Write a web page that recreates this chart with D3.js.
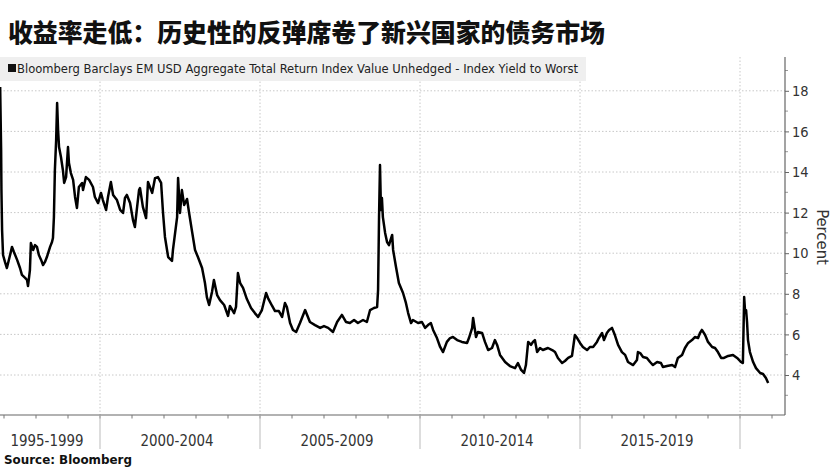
<!DOCTYPE html>
<html><head><meta charset="utf-8">
<script src="https://cdn.jsdelivr.net/npm/d3@7"></script>
<style>body{margin:0;background:#fff}svg{display:block}</style>
</head><body>
<svg id="c" width="831" height="467"></svg>
<script>
const title = "收益率走低：历史性的反弹席卷了新兴国家的债务市场";
const legendLabel = "Bloomberg Barclays EM USD Aggregate Total Return Index Value Unhedged - Index Yield to Worst";
const yTicks = [4, 6, 8, 10, 12, 14, 16, 18];
const periodLabels = ["1995-1999", "2000-2004", "2005-2009", "2010-2014", "2015-2019"];
const periodStarts = [1995, 2000, 2005, 2010, 2015, 2020];
const dates = [1996.88,1996.91,1996.92,1996.94,1996.97,1997.03,1997.09,1997.19,1997.25,1997.31,1997.41,1997.5,1997.56,1997.66,1997.72,1997.75,1997.81,1997.84,1997.91,1997.97,
1998.03,1998.09,1998.16,1998.22,1998.28,1998.34,1998.44,1998.5,1998.53,1998.56,1998.59,1998.63,1998.66,1998.69,1998.72,1998.78,1998.84,1998.88,1998.94,
1999.0,1999.03,1999.09,1999.16,1999.22,1999.28,1999.34,1999.44,1999.47,1999.56,1999.66,1999.78,1999.84,1999.94,
2000.03,2000.09,2000.19,2000.25,2000.34,2000.41,2000.53,2000.63,2000.72,2000.78,2000.84,2000.94,
2001.03,2001.09,2001.16,2001.22,2001.25,2001.34,2001.44,2001.5,2001.63,2001.72,2001.81,2001.91,2001.97,
2002.03,2002.13,2002.25,2002.28,2002.41,2002.44,2002.5,2002.56,2002.63,2002.72,2002.78,2002.88,2002.97,
2003.06,2003.19,2003.28,2003.34,2003.41,2003.5,2003.56,2003.66,2003.75,2003.88,
2004.0,2004.06,2004.19,2004.25,2004.31,2004.38,2004.47,2004.59,2004.72,2004.84,2004.94,
2005.06,2005.19,2005.25,2005.38,2005.47,2005.59,2005.69,2005.78,2005.84,2005.94,
2006.03,2006.13,2006.25,2006.41,2006.56,2006.72,2006.88,
2007.0,2007.13,2007.28,2007.41,2007.56,2007.69,2007.81,2007.94,
2008.06,2008.22,2008.34,2008.44,2008.56,2008.66,2008.69,2008.72,2008.75,2008.78,2008.81,2008.84,2008.91,2008.97,
2009.03,2009.13,2009.16,2009.25,2009.34,2009.47,2009.56,2009.63,2009.72,2009.78,2009.94,
2010.06,2010.16,2010.25,2010.34,2010.41,2010.53,2010.63,2010.72,2010.84,2010.94,
2011.03,2011.16,2011.31,2011.47,2011.53,2011.63,2011.66,2011.75,2011.81,2011.94,
2012.03,2012.13,2012.25,2012.34,2012.41,2012.5,2012.66,2012.81,2012.97,
2013.06,2013.16,2013.25,2013.31,2013.38,2013.47,2013.53,2013.59,2013.66,2013.75,2013.84,
2014.0,2014.13,2014.22,2014.31,2014.44,2014.53,2014.63,2014.75,2014.84,2014.91,
2015.0,2015.09,2015.22,2015.31,2015.41,2015.53,2015.59,2015.69,2015.75,2015.84,2015.91,
2016.0,2016.09,2016.19,2016.31,2016.41,2016.5,2016.66,2016.78,2016.81,2016.88,2016.97,
2017.09,2017.19,2017.28,2017.41,2017.53,2017.59,2017.72,2017.88,2017.97,
2018.06,2018.19,2018.28,2018.38,2018.5,2018.59,2018.69,2018.75,2018.81,2018.91,
2019.0,2019.13,2019.22,2019.31,2019.41,2019.5,2019.63,2019.78,2019.91,
2020.03,2020.09,2020.13,2020.16,2020.19,2020.22,2020.25,2020.31,2020.41,2020.5,2020.63,2020.72,2020.81,2020.88];
const yields = [18.19,15.08,13.11,11.14,9.91,9.57,9.27,9.91,10.31,10.06,9.67,9.27,8.93,8.78,8.68,8.38,9.17,10.5,10.16,10.4,
10.31,9.91,9.67,9.42,9.57,9.81,10.31,10.55,10.75,11.78,14.1,15.58,17.4,16.07,15.23,14.74,14.1,13.46,13.75,
15.23,14.44,13.95,13.61,12.77,12.23,13.26,13.46,13.11,13.75,13.61,13.26,12.77,12.47,
12.97,12.62,12.13,12.77,13.51,12.87,12.62,12.13,11.98,12.72,12.87,12.47,
11.64,11.29,12.28,13.11,13.21,12.28,11.73,13.51,12.97,13.7,13.75,13.46,11.98,
10.8,9.81,9.62,10.16,11.78,13.7,11.98,13.11,12.37,12.67,12.03,11.04,10.16,
9.81,9.27,8.53,7.84,7.45,8.09,8.68,7.94,7.69,7.45,
6.91,7.4,7.05,7.35,9.02,8.53,8.29,7.74,7.3,7.05,6.86,
7.2,8.04,7.79,7.4,7.15,7.15,6.86,7.55,7.35,6.56,
6.22,6.12,6.56,7.2,6.61,6.46,6.32,
6.41,6.32,6.12,6.61,6.96,6.61,6.56,6.71,
6.56,6.71,6.61,7.2,7.3,7.35,8.19,11.78,14.34,12.13,12.72,11.78,11.0,10.55,
10.4,10.9,10.16,9.32,8.53,8.04,7.55,7.05,6.56,6.71,6.56,
6.61,6.32,6.46,6.56,6.22,5.82,5.38,5.13,5.63,5.82,
5.87,5.72,5.63,5.58,5.82,6.32,6.81,5.87,6.12,6.07,
5.63,5.23,5.33,5.72,5.48,4.99,4.64,4.44,4.34,
4.59,4.25,4.1,4.49,5.63,5.48,5.63,5.72,5.13,5.33,5.23,
5.33,5.23,5.13,4.84,4.59,4.69,4.84,4.94,5.97,5.82,
5.58,5.38,5.23,5.38,5.38,5.63,5.82,6.07,5.72,6.07,6.22,
6.32,5.97,5.48,5.13,4.99,4.64,4.49,4.74,5.13,5.08,4.89,
4.84,4.64,4.49,4.64,4.59,4.39,4.44,4.49,4.39,
4.84,4.99,5.33,5.58,5.72,5.87,5.82,6.07,6.22,5.97,
5.63,5.38,5.33,5.13,4.84,4.84,4.94,4.99,4.84,
4.64,4.59,7.84,7.1,7.2,6.61,5.72,5.13,4.64,4.34,4.1,4.05,3.85,3.61];

const svg = d3.select("#c");
const plotL = 0, plotR = 785, plotT = 57, plotB = 415;
const x = d3.scaleLinear().domain([1995, 2020]).range([-60, 740]);
const y = d3.scaleLinear().domain([4, 18]).range([375, 90.8]);

// title
svg.append("text").attr("x", 8).attr("y", 42)
  .attr("font-family", "'Noto Sans CJK SC', sans-serif").attr("font-weight", 900)
  .attr("font-size", 24.5).attr("fill", "#111")
  .attr("textLength", 597).attr("lengthAdjust", "spacingAndGlyphs").text(title);

// grid
const g = svg.append("g");
g.selectAll(".hg").data(yTicks).join("line")
  .attr("x1", plotL).attr("x2", plotR).attr("y1", d => y(d)).attr("y2", d => y(d))
  .attr("stroke", "#c8c8c8").attr("stroke-width", 1).attr("stroke-dasharray", "1.5,2");
g.selectAll(".vg").data(periodStarts.slice(1)).join("line")
  .attr("x1", d => x(d)).attr("x2", d => x(d)).attr("y1", plotT).attr("y2", plotB)
  .attr("stroke", "#c8c8c8").attr("stroke-width", 1).attr("stroke-dasharray", "1.5,2");

// legend band
svg.append("rect").attr("x", 0).attr("y", 57).attr("width", 586).attr("height", 24).attr("fill", "#efefef");
svg.append("rect").attr("x", 8).attr("y", 64).attr("width", 8).attr("height", 8).attr("fill", "#111");
svg.append("text").attr("x", 17).attr("y", 73)
  .attr("font-family", "'DejaVu Sans Condensed', 'DejaVu Sans', sans-serif")
  .attr("font-size", 12.5).attr("fill", "#222")
  .attr("textLength", 561).attr("lengthAdjust", "spacingAndGlyphs").text(legendLabel);

// line
const line = d3.line().x((d, i) => x(dates[i])).y(d => y(d)).curve(d3.curveLinear);
svg.append("path").attr("d", line(yields)).attr("fill", "none")
  .attr("stroke", "#000").attr("stroke-width", 2.5).attr("stroke-linejoin", "round");

// right axis
const yAxis = d3.axisRight(y).tickValues(yTicks).tickSize(4).tickPadding(3).tickFormat(d3.format("d"));
const ya = svg.append("g").attr("transform", `translate(${plotR},0)`).call(yAxis);
ya.select(".domain").remove();
ya.selectAll("text").attr("font-family", "'DejaVu Sans Condensed', sans-serif").attr("font-size", 14.5).attr("fill", "#333");
ya.selectAll("line").attr("stroke", "#666");
const minor = d3.range(3, 20, 2);
svg.append("g").selectAll("line").data(minor).join("line")
  .attr("x1", plotR).attr("x2", plotR + 3).attr("y1", d => y(d)).attr("y2", d => y(d))
  .attr("stroke", "#999");
svg.append("line").attr("x1", plotR).attr("x2", plotR).attr("y1", plotT).attr("y2", plotB)
  .attr("stroke", "#666").attr("stroke-width", 1.2);

svg.append("text").attr("transform", `translate(817,237) rotate(90)`)
  .attr("text-anchor", "middle").attr("font-family", "'DejaVu Sans Condensed', sans-serif")
  .attr("font-size", 16.5).attr("fill", "#333").text("Percent");

// bottom axis
svg.append("line").attr("x1", plotL).attr("x2", plotR).attr("y1", plotB).attr("y2", plotB)
  .attr("stroke", "#666").attr("stroke-width", 1.2);
const years = d3.range(1997, 2022);
svg.append("g").selectAll("line").data(years).join("line")
  .attr("x1", d => x(d)).attr("x2", d => x(d)).attr("y1", plotB).attr("y2", plotB + 3.5)
  .attr("stroke", "#777");
svg.append("g").selectAll("line").data(periodStarts.slice(1)).join("line")
  .attr("x1", d => x(d)).attr("x2", d => x(d)).attr("y1", plotB).attr("y2", 449)
  .attr("stroke", "#bbb");
svg.append("g").selectAll("text").data(periodLabels).join("text")
  .attr("x", (d, i) => (Math.max(plotL, x(periodStarts[i])) + x(periodStarts[i + 1])) / 2 - 3)
  .attr("y", 446).attr("text-anchor", "middle")
  .attr("font-family", "'DejaVu Sans Condensed', sans-serif").attr("font-size", 15.5)
  .attr("fill", "#333").attr("textLength", 73).attr("lengthAdjust", "spacingAndGlyphs")
  .text(d => d);

// source
svg.append("text").attr("x", 4).attr("y", 464)
  .attr("font-family", "'DejaVu Sans Condensed', sans-serif").attr("font-weight", "bold")
  .attr("font-size", 13).attr("fill", "#111").attr("textLength", 128).attr("lengthAdjust", "spacingAndGlyphs")
  .text("Source: Bloomberg");
</script>
</body></html>
